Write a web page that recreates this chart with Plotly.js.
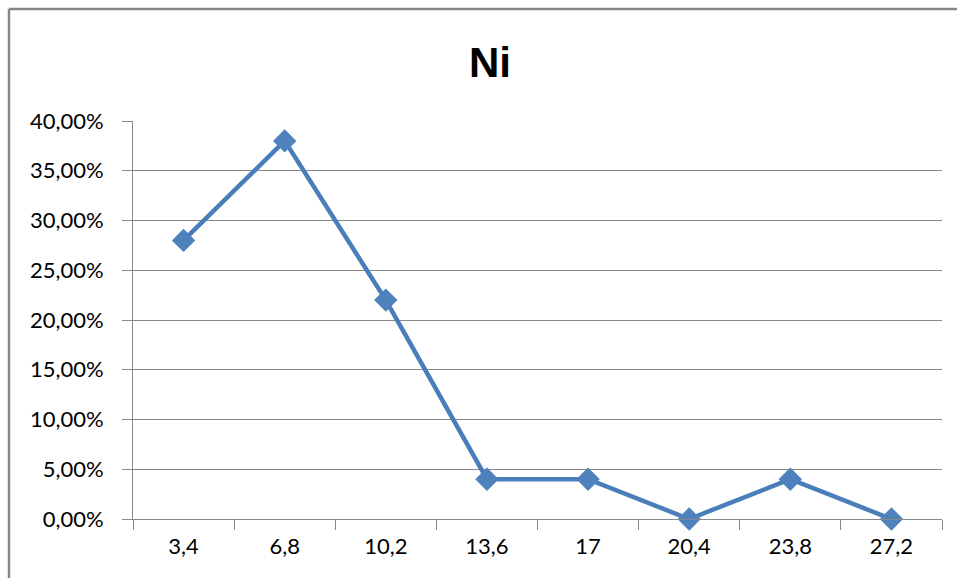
<!DOCTYPE html>
<html>
<head>
<meta charset="utf-8">
<script src="https://cdn.plot.ly/plotly-3.0.1.min.js"></script>
<style>html,body{margin:0;padding:0;background:#fff;}#chart{width:957px;height:578px;}</style>
</head>
<body>
<div id="chart"></div>
<script>
const categories = ["3,4", "6,8", "10,2", "13,6", "17", "20,4", "23,8", "27,2"];
const niValues = [0.28, 0.38, 0.22, 0.04, 0.04, 0.00, 0.04, 0.00];
const yTickValues = [0, 0.05, 0.10, 0.15, 0.20, 0.25, 0.30, 0.35, 0.40];
const chartTitle = "Ni";

const L = 133, R = 942, T = 121, B = 519, W = 957, H = 578;
const px2x = p => (p - L) / (R - L);
const px2y = p => (B - p) / (B - T);
const borderColor = "#878787";

const trace = {
  x: categories,
  y: niValues,
  type: "scatter",
  mode: "lines+markers",
  cliponaxis: false,
  line: {color: "#4a7ebb", width: 4.5},
  marker: {symbol: "diamond", size: 18, color: "#4f81bd", line: {width: 0}},
  hoverinfo: "skip"
};

const layout = {
  width: W, height: H,
  margin: {l: L, r: W - R, t: T, b: H - B, pad: 0},
  paper_bgcolor: "#ffffff",
  plot_bgcolor: "#ffffff",
  separators: ",.",
  showlegend: false,
  font: {family: "Lato, 'Liberation Sans', sans-serif", color: "#000000", size: 22},
  title: {text: chartTitle, font: {family: "'Liberation Sans', Arial, sans-serif", size: 42, color: "#000", weight: "bold"},
          x: 0.512, xanchor: "center", y: 1 - 62 / H, yanchor: "middle"},
  xaxis: {
    type: "category",
    range: [-0.5, 7.5],
    showgrid: false,
    showline: true, linecolor: borderColor, linewidth: 1,
    ticks: "outside", ticklen: 10, tickcolor: borderColor, tickwidth: 1,
    tickson: "boundaries",
    tickfont: {size: 22, color: "#000"},
    ticklabelstandoff: 8,
    zeroline: false, fixedrange: true
  },
  yaxis: {
    range: [0, 0.4],
    tickvals: yTickValues,
    tickformat: ".2%",
    showgrid: true, gridcolor: borderColor, gridwidth: 1,
    showline: true, linecolor: borderColor, linewidth: 1,
    ticks: "outside", ticklen: 10, tickcolor: borderColor, tickwidth: 1,
    tickfont: {size: 22, color: "#000"},
    ticklabelstandoff: 14,
    zeroline: false, fixedrange: true
  },
  shapes: [
    {type: "line", xref: "paper", yref: "paper", x0: px2x(9), x1: px2x(1000), y0: px2y(9), y1: px2y(9), line: {color: borderColor, width: 2.5}},
    {type: "line", xref: "paper", yref: "paper", x0: px2x(9), x1: px2x(9), y0: px2y(9), y1: px2y(700), line: {color: borderColor, width: 2.5}}
  ]
};

Plotly.newPlot("chart", [trace], layout, {staticPlot: true, displayModeBar: false});
</script>
</body>
</html>
